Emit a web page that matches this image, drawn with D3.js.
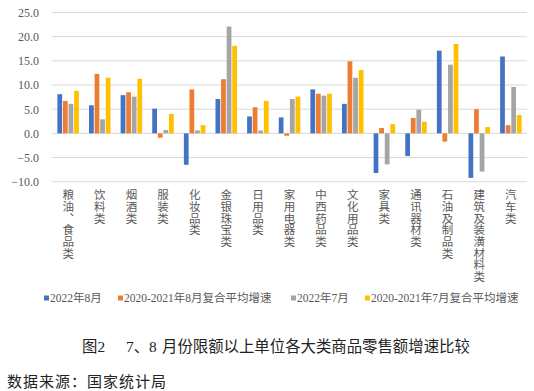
<!DOCTYPE html>
<html>
<head>
<meta charset="utf-8">
<script src="https://cdn.jsdelivr.net/npm/d3@7"></script>
<style>
html,body{margin:0;padding:0;background:#fff;}
svg{display:block;}
.vlabel{writing-mode:vertical-rl;text-orientation:upright;}
</style>
</head>
<body>
<svg id="chart" width="534" height="391"></svg>
<script>
const categories = ["粮油、食品类","饮料类","烟酒类","服装类","化妆品类","金银珠宝类","日用品类","家用电器类","中西药品类","文化用品类","家具类","通讯器材类","石油及制品类","建筑及装潢材料类","汽车类"];
const seriesNames = ["2022年8月","2020-2021年8月复合平均增速","2022年7月","2020-2021年7月复合平均增速"];
const aug2022 = [8.1, 5.8, 7.9, 5.1, -6.5, 7.1, 3.5, 3.3, 9.1, 6.1, -8.2, -4.7, 17.1, -9.2, 15.9];
const aug2020_21 = [6.7, 12.3, 8.5, -0.9, 9.1, 11.2, 5.4, -0.5, 8.2, 14.9, 1.1, 3.2, -1.7, 5.0, 1.7];
const jul2022 = [6.1, 2.9, 7.6, 0.7, 0.6, 22.1, 0.6, 7.1, 7.8, 11.5, -6.4, 4.9, 14.2, -7.9, 9.6];
const jul2020_21 = [8.8, 11.5, 11.3, 4.0, 1.7, 18.1, 6.7, 7.6, 8.2, 13.1, 1.9, 2.4, 18.5, 1.3, 3.8];
const yTicks = [-10, -5, 0, 5, 10, 15, 20, 25];
const colors = ["#4472C4", "#ED7D31", "#A5A5A5", "#FFC000"];
const title = "图2";
const titleRest1 = "7、8";
const titleRest2 = "月份限额以上单位各大类商品零售额增速比较";
const source = "数据来源：国家统计局";

const seriesValues = [aug2022, aug2020_21, jul2022, jul2020_21];

const svg = d3.select("#chart");
const plotLeft = 52, plotRight = 527, plotTop = 12.5, plotBottom = 181.7;

const y = d3.scaleLinear().domain([-10, 25]).range([plotBottom, plotTop]);
const x0 = d3.scaleBand().domain(categories).range([plotLeft, plotRight]).paddingInner(0.32).paddingOuter(0.17);
const x1 = d3.scaleBand().domain(seriesNames).range([0, x0.bandwidth()]).paddingInner(0.15);

// gridlines
svg.append("g").selectAll("line").data(yTicks).join("line")
  .attr("x1", plotLeft).attr("x2", plotRight)
  .attr("y1", d => y(d)).attr("y2", d => y(d))
  .attr("stroke", "#d9d9d9").attr("stroke-width", 1);

// y axis labels
const yAxis = d3.axisLeft(y).tickValues(yTicks).tickFormat(d3.format(".1f")).tickSize(0).tickPadding(0);
const ya = svg.append("g").attr("transform", "translate(39,0)").call(yAxis);
ya.select(".domain").remove();
ya.selectAll("text").attr("font-family", "'Liberation Serif', serif").attr("font-size", 12).attr("fill", "#595959");

// bars
const groups = svg.append("g").selectAll("g").data(categories).join("g")
  .attr("transform", d => `translate(${x0(d)},0)`);
groups.selectAll("rect").data((c, i) => seriesNames.map((s, j) => ({s, j, v: seriesValues[j][i]}))).join("rect")
  .attr("x", d => x1(d.s))
  .attr("width", x1.bandwidth())
  .attr("y", d => y(Math.max(0, d.v)))
  .attr("height", d => Math.abs(y(d.v) - y(0)))
  .attr("fill", d => colors[d.j]);

// category labels (vertical)
svg.append("g").selectAll("text").data(categories).join("text")
  .attr("class", "vlabel")
  .attr("x", d => x0(d) + x0.bandwidth() / 2)
  .attr("y", 189)
  .attr("font-family", "'Noto Sans CJK SC', sans-serif").attr("font-size", 11.5)
  .attr("letter-spacing", 0.2)
  .attr("fill", "#595959").text(d => d);

// legend
const legendX = [44, 118, 291, 365];
const lg = svg.append("g");
seriesNames.forEach((s, j) => {
  lg.append("rect").attr("x", legendX[j]).attr("y", 295.5).attr("width", 5).attr("height", 5).attr("fill", colors[j]);
  lg.append("text").attr("x", legendX[j] + 6).attr("y", 298)
    .attr("dominant-baseline", "central")
    .attr("font-family", "'Liberation Serif', 'Noto Sans CJK SC', serif").attr("font-size", 11.5)
    .attr("fill", "#595959").text(s);
});

// title
const tt = svg.append("text").attr("y", 346).attr("dominant-baseline", "central")
  .attr("font-family", "'Liberation Serif', 'Noto Sans CJK SC', serif").attr("font-size", 15.4).attr("fill", "#222");
tt.append("tspan").attr("x", 82).text(title);
tt.append("tspan").attr("x", 126).text(titleRest1);
tt.append("tspan").attr("x", 162).text(titleRest2);

// source
svg.append("text").attr("x", 7).attr("y", 380).attr("dominant-baseline", "central")
  .attr("font-family", "'Noto Sans CJK SC', sans-serif").attr("font-size", 15).attr("letter-spacing", 1)
  .attr("fill", "#222").text(source);
</script>
</body>
</html>
